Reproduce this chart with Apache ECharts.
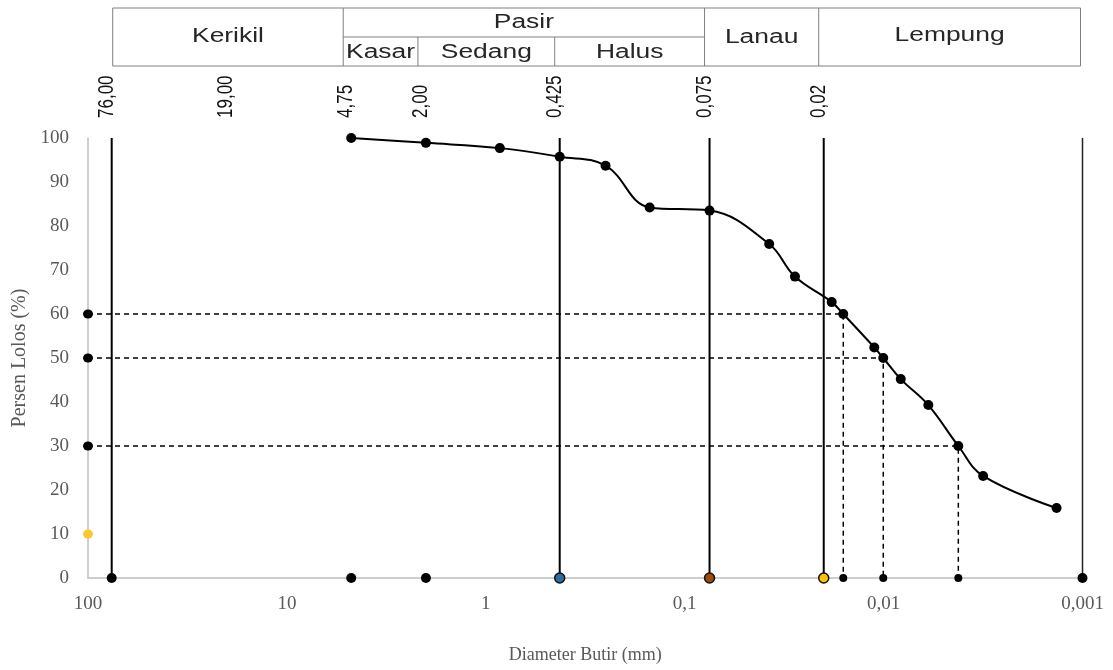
<!DOCTYPE html>
<html>
<head>
<meta charset="utf-8">
<script src="https://cdn.jsdelivr.net/npm/echarts@6/dist/echarts.min.js"></script>
<style>
  html, body { margin: 0; padding: 0; background: #fff; }
  #main { width: 1113px; height: 670px; }
</style>
</head>
<body>
<div id="main"></div>
<script>
  // grain size distribution (hydrometer + sieve)
  const sieveSize = [4.75, 2.00, 0.85, 0.425, 0.25, 0.15, 0.075, 0.0376, 0.0279, 0.01824,
    0.01595, 0.01114, 0.01004, 0.0082, 0.00596, 0.00421, 0.00316, 0.00135];
  const percentPassing = [100, 98.9, 97.7, 95.75, 93.7, 84.2, 83.5, 75.9, 68.5, 62.7,
    60, 52.4, 50, 45.2, 39.3, 30, 23.2, 15.9];

  // D60, D50, D30
  const dPercent = [60, 50, 30];
  const dSize = [0.01595, 0.01004, 0.00421];

  // class boundaries drawn as solid verticals
  const boundarySizes = [76, 0.425, 0.075, 0.02, 0.001];
  // markers on the zero line
  const baseSizes = [76, 4.75, 2.00, 0.425, 0.075, 0.02, 0.001];
  const baseColors = ['#000', '#000', '#000', '#2e6da4', '#a0490f', '#ffc000', '#000'];

  // markers on the left axis
  const axisPercent = [60, 50, 30, 10];
  const axisColors = ['#000', '#000', '#000', '#ffc72c'];

  // header
  const headerSizes = [76, 19, 4.75, 2.00, 0.425, 0.075, 0.02];
  const headerLabels = ['76,00', '19,00', '4,75', '2,00', '0,425', '0,075', '0,02'];
  const xTickLabels = { '2': '100', '1': '10', '0': '1', '-1': '0,1', '-2': '0,01', '-3': '0,001' };

  const serif = 'Liberation Serif, Times New Roman, serif';
  const sans = 'Liberation Sans, Arial, sans-serif';

  let series = [];
  boundarySizes.forEach(function (v, i) {
    series.push({
      type: 'line', data: [[v, 0], [v, 100]], symbol: 'none', z: 2, silent: true,
      lineStyle: { color: i === boundarySizes.length - 1 ? '#222' : '#000', width: i === boundarySizes.length - 1 ? 1.5 : 2 }
    });
  });
  dPercent.forEach(function (p, i) {
    series.push({
      type: 'line', data: [[100, p], [dSize[i], p], [dSize[i], 0]], symbol: 'none', z: 3, silent: true,
      lineStyle: { color: '#000', width: 1.5, type: [5, 4] }
    });
  });
  series.push({
    type: 'line', smooth: 0.4, z: 5,
    data: sieveSize.map(function (s, i) { return [s, percentPassing[i]]; }),
    symbol: 'circle', symbolSize: 10,
    itemStyle: { color: '#000' },
    lineStyle: { color: '#000', width: 2 }
  });
  series.push({
    type: 'scatter', clip: false, z: 6,
    data: baseSizes.map(function (s, i) {
      return {
        value: [s, 0],
        itemStyle: { color: baseColors[i], borderColor: '#111', borderWidth: baseColors[i] === '#000' ? 0 : 1.5 }
      };
    }),
    symbolSize: 10, itemStyle: { opacity: 1 }
  });
  series.push({
    type: 'scatter', clip: false, z: 6,
    data: dSize.map(function (s) { return [s, 0]; }),
    symbolSize: 8, itemStyle: { color: '#000', opacity: 1 }
  });
  series.push({
    type: 'scatter', clip: false, z: 6,
    data: axisPercent.map(function (p, i) {
      return { value: [100, p], itemStyle: { color: axisColors[i] } };
    }),
    symbolSize: [10, 9], itemStyle: { opacity: 1 }
  });

  const option = {
    animation: false,
    backgroundColor: '#fff',
    grid: { left: 88, right: 30.5, top: 138, bottom: 92 },
    xAxis: {
      type: 'log', logBase: 10, min: 0.001, max: 100, inverse: true,
      name: 'Diameter Butir (mm)', nameLocation: 'middle', nameGap: 68,
      nameTextStyle: { fontFamily: serif, fontSize: 18, color: '#595959' },
      axisLine: { lineStyle: { color: '#bfbfbf', width: 1.5 } },
      axisTick: { show: false },
      splitLine: { show: false },
      axisLabel: {
        fontFamily: serif, fontSize: 19, color: '#595959', margin: 17,
        showMinLabel: true, showMaxLabel: true,
        formatter: function (v) { return xTickLabels[String(Math.round(Math.log10(v)))] || ''; }
      }
    },
    yAxis: {
      type: 'value', min: 0, max: 100, interval: 10,
      name: 'Persen Lolos (%)', nameLocation: 'middle', nameGap: 58,
      nameTextStyle: { fontFamily: serif, fontSize: 20, color: '#595959' },
      axisLine: { show: true, lineStyle: { color: '#bfbfbf', width: 1.5 } },
      axisTick: { show: false },
      splitLine: { show: false },
      axisLabel: { fontFamily: serif, fontSize: 19, color: '#595959', margin: 19 }
    },
    series: series
  };

  const chart = echarts.init(document.getElementById('main'));
  chart.setOption(option);

  // header table and size labels, placed from the x scale
  const shift = -5;
  const px = function (v) { return chart.convertToPixel({ xAxisIndex: 0 }, v) + shift; };
  const rowTop = 8, rowMid = 37, rowBottom = 66;
  const lineStyle = { stroke: '#7f7f7f', lineWidth: 1 };
  const textColor = '#262626';
  let graphic = [];

  function vline(x, y1, y2) {
    graphic.push({ type: 'line', shape: { x1: x, y1: y1, x2: x, y2: y2 }, style: lineStyle, silent: true });
  }
  function cellText(txt, x1, x2, y) {
    graphic.push({
      type: 'text', x: (x1 + x2) / 2, y: y, scaleX: 1.32, silent: true,
      style: { text: txt, font: '20px ' + sans, fill: textColor, align: 'center', verticalAlign: 'middle' }
    });
  }

  const xL = px(76) + 6, xR = px(0.001) + 3;
  graphic.push({ type: 'rect', shape: { x: xL, y: rowTop, width: xR - xL, height: rowBottom - rowTop }, style: { stroke: '#7f7f7f', fill: 'none', lineWidth: 1 }, silent: true });
  const b475 = px(4.75) - 3, b2 = px(2.00) - 3, b0425 = px(0.425), b0075 = px(0.075), b002 = px(0.02);
  vline(b475, rowTop, rowBottom);
  vline(b0075, rowTop, rowBottom);
  vline(b002, rowTop, rowBottom);
  vline(b2, rowMid, rowBottom);
  vline(b0425, rowMid, rowBottom);
  graphic.push({ type: 'line', shape: { x1: b475, y1: rowMid, x2: b0075, y2: rowMid }, style: lineStyle, silent: true });

  cellText('Kerikil', xL, b475, 36);
  cellText('Pasir', b475, b0075, 22);
  cellText('Kasar', b475, b2, 52);
  cellText('Sedang', b2, b0425, 52);
  cellText('Halus', b0425, b0075, 52);
  cellText('Lanau', b0075, b002, 37);
  cellText('Lempung', b002, xR, 35);

  headerSizes.forEach(function (v, i) {
    graphic.push({
      type: 'text', x: px(v), y: 118, rotation: Math.PI / 2, scaleY: 1.28, silent: true,
      style: { text: headerLabels[i], font: '17px ' + sans, fill: '#111', align: 'left', verticalAlign: 'middle' }
    });
  });

  chart.setOption({ graphic: graphic });
</script>
</body>
</html>
